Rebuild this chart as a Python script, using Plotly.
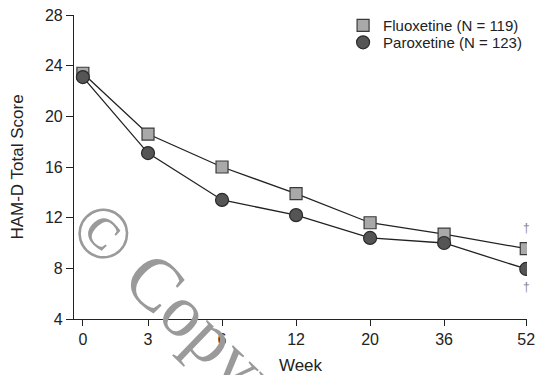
import plotly.graph_objects as go

weeks = ["0", "3", "6", "12", "20", "36", "52"]
# horizontal slot of each visit on the axis (as spaced in the original figure)
week_slot = [0, 0.88, 1.88, 2.88, 3.88, 4.88, 5.99]
fluoxetine = [23.4, 18.6, 16.0, 13.9, 11.6, 10.7, 9.55]
paroxetine = [23.1, 17.1, 13.4, 12.2, 10.4, 10.0, 7.95]
y_ticks = [4, 8, 12, 16, 20, 24, 28]
series_names = ["Fluoxetine (N = 119)", "Paroxetine (N = 123)"]
dagger_week = "52"

FONT = "Liberation Sans, Arial, sans-serif"
INK = "#222222"

styles = [
    dict(symbol="square", size=12, color="#a9a9a9", line=dict(color="#3a3a3a", width=1.2)),
    dict(symbol="circle", size=13, color="#555555", line=dict(color="#2a2a2a", width=1.2)),
]

fig = go.Figure()
for vals in (fluoxetine, paroxetine):
    fig.add_trace(go.Scatter(x=week_slot, y=vals, mode="lines", showlegend=False,
                             hoverinfo="skip", line=dict(color=INK, width=1.3)))
for vals, name, mk, lg in zip((fluoxetine, paroxetine), series_names, styles,
                              ("legend", "legend2")):
    fig.add_trace(go.Scatter(x=week_slot, y=vals, name=name, mode="markers",
                             marker=mk, legend=lg))

di = weeks.index(dagger_week)
fig.add_annotation(x=week_slot[di], y=fluoxetine[di], text="†", showarrow=False,
                   yshift=21, font=dict(family=FONT, size=12, color="#858585"))
fig.add_annotation(x=week_slot[di], y=paroxetine[di], text="†", showarrow=False,
                   yshift=-18, font=dict(family=FONT, size=12, color="#858585"))

# watermark
fig.add_annotation(xref="paper", yref="paper", x=0.32, y=-0.082,
                   xanchor="center", yanchor="middle",
                   text="© Copyright", showarrow=False, textangle=44,
                   font=dict(family="Liberation Serif, serif", size=74, color="#9a9a9a"))

axis_common = dict(showline=True, linecolor=INK, linewidth=1.2,
                   ticks="outside", tickwidth=1.2, tickcolor=INK,
                   showgrid=False, zeroline=False, automargin=False,
                   ticklabeloverflow="allow",
                   tickfont=dict(family=FONT, size=16, color=INK))

fig.update_xaxes(range=[-0.12, 6.0], tickvals=week_slot, ticktext=weeks, ticklen=6,
                 title=dict(text="Week", font=dict(family=FONT, size=17, color=INK),
                            standoff=13),
                 **axis_common)
fig.update_yaxes(range=[4, 28], tickvals=y_ticks, ticklen=7,
                 title=dict(text="HAM-D Total Score",
                            font=dict(family=FONT, size=17, color=INK), standoff=16),
                 **axis_common)

legend_common = dict(x=0.594, xanchor="left", yanchor="top",
                     font=dict(family=FONT, size=15, color=INK),
                     bgcolor="rgba(0,0,0,0)", itemwidth=30)

fig.update_layout(
    width=539, height=375,
    margin=dict(l=74, r=12, t=15, b=56, autoexpand=False),
    plot_bgcolor="white", paper_bgcolor="white",
    showlegend=True,
    legend=dict(y=1.0195, **legend_common),
    legend2=dict(y=0.9635, **legend_common),
)

fig.write_html("out.html", config={"displayModeBar": False},
               post_script="document.body.style.margin='0';")
